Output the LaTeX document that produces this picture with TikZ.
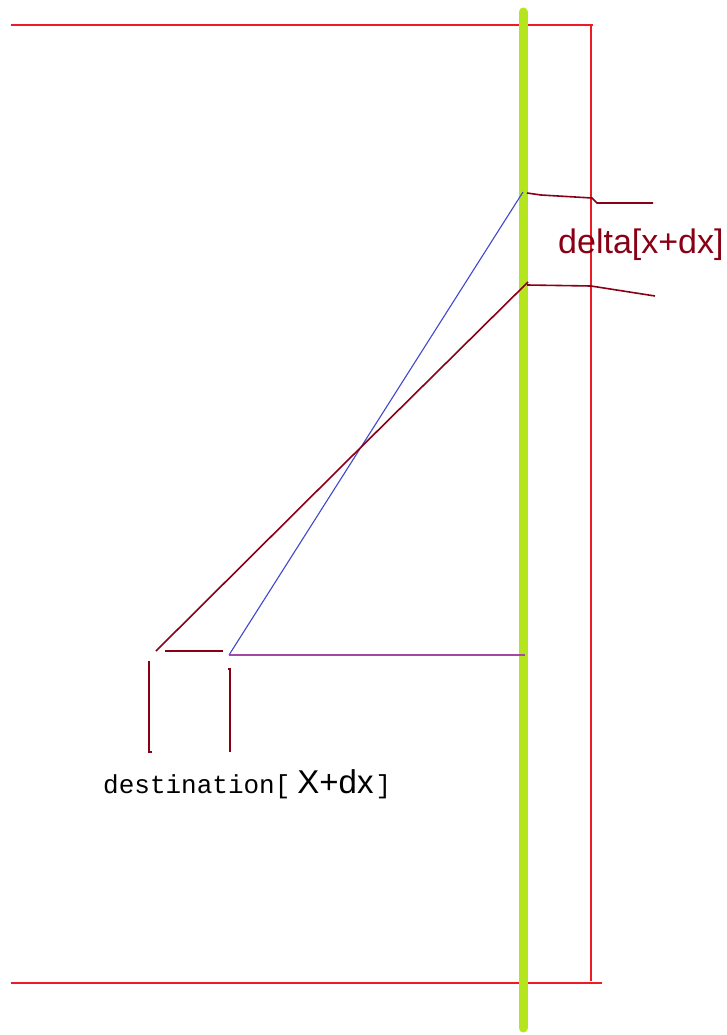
\documentclass[tikz,border=0pt]{standalone}
\usepackage{fontspec}
\setmainfont{Liberation Sans}
\newfontfamily\monofont{Liberation Mono}
\definecolor{pred}{RGB}{237,28,36}
\definecolor{dred}{RGB}{136,0,21}
\definecolor{pblue}{RGB}{63,72,204}
\definecolor{ppurple}{RGB}{163,73,164}
\definecolor{pgreen}{RGB}{181,230,29}
\tikzset{
  redline/.style={pred, line width=2},
  dredline/.style={dred, line width=1.6},
  blueline/.style={pblue, line width=1.1},
  purpleline/.style={ppurple, line width=2},
  greenline/.style={pgreen, line width=9, line cap=round},
  lbl/.style={inner sep=0, anchor=base west},
}
\begin{document}
\begin{tikzpicture}[x=1pt,y=-1pt]
\useasboundingbox (0,0) rectangle (727,1035);
% frame
\coordinate (tl) at (11,25);
\coordinate (tr) at (593,25);
\coordinate (rt) at (591,25);
\coordinate (rb) at (591,981);
\coordinate (bl) at (11,983);
\coordinate (br) at (602,983);
\draw[redline] (tl) -- (tr);
\draw[redline] (rt) -- (rb);
\draw[redline] (bl) -- (br);
% green axis
\coordinate (gt) at (523,12);
\coordinate (gb) at (523,1028);
\draw[greenline] (gt) -- (gb);
% points
\coordinate (A) at (523,192);
\coordinate (B) at (528,282);
\coordinate (K) at (343,465);
\coordinate (C) at (229,655);
\coordinate (D) at (156,651);
\coordinate (E) at (525,655);
\draw[blueline] (A) -- (C);
\draw[dredline] (B) -- (K) -- (D);
\draw[purpleline] (C) -- (E);
\coordinate (h1) at (165,651);
\coordinate (h2) at (223,651);
\draw[dredline] (h1) -- (h2);
% brackets on left
\coordinate (v1t) at (149,661);
\coordinate (v1b) at (149,752);
\coordinate (v1e) at (152,752);
\draw[dredline] (v1t) -- (v1b) -- (v1e);
\coordinate (v2s) at (228,669);
\coordinate (v2t) at (230,669);
\coordinate (v2b) at (230,752);
\draw[dredline] (v2s) -- (v2t) -- (v2b);
% delta ticks
\coordinate (p1) at (527,193);
\coordinate (p2) at (541,195);
\coordinate (p3) at (592,198);
\coordinate (p4) at (597,203);
\coordinate (p5) at (653,203);
\draw[dredline] (p1) -- (p2) -- (p3) -- (p4) -- (p5);
\coordinate (q1) at (527,285);
\coordinate (q2) at (591,286);
\coordinate (q3) at (655,296);
\draw[dredline] (q1) -- (q2) -- (q3);
% labels
\node[lbl, text=dred, font=\fontsize{34}{36}\selectfont] (delta) at (558,253) {delta[x+dx]};
\node[lbl, font=\fontsize{26}{30}\selectfont] (dest) at (103,793) {{\monofont destination[}\kern7pt{\fontsize{33}{36}\selectfont X+dx}\kern2pt{\monofont ]}};
\end{tikzpicture}
\end{document}
